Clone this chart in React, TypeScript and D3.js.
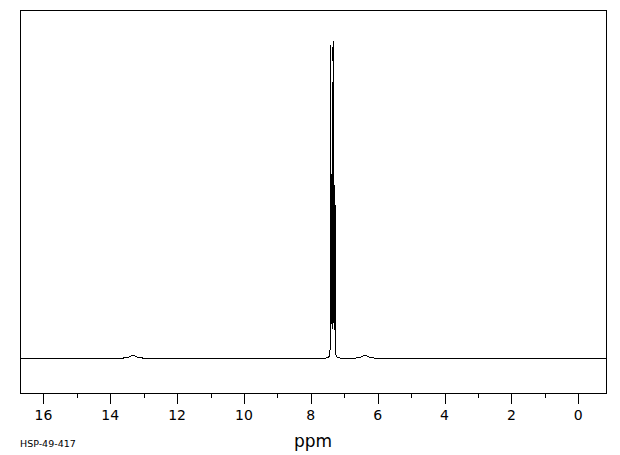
import React from "react";
import * as d3 from "d3";

// Peak list (ppm, intensity relative to tallest = 100, half width in ppm)
const peakPpm = [7.416, 7.404, 7.393, 7.383, 7.372, 7.363, 7.352, 7.336, 7.326, 7.315, 7.305, 7.297, 7.286, 7.276, 7.267, 7.35, 13.32, 6.37];
const peakHeight = [70, 95, 50, 53, 46, 50, 48, 94.5, 50, 54, 46, 50, 41, 45, 40, 3.5, 0.9, 1.0];
const peakWidth = [0.0015, 0.0015, 0.0015, 0.0015, 0.0015, 0.0015, 0.0015, 0.0015, 0.0015, 0.0015, 0.0015, 0.0015, 0.0015, 0.0015, 0.0015, 0.035, 0.13, 0.11];

const majorTicks = [16, 14, 12, 10, 8, 6, 4, 2, 0];
const minorTicks = [15, 13, 11, 9, 7, 5, 3, 1];
const xDomain = [16.7, -0.83];
const axisTitle = "ppm";
const sampleId = "HSP-49-417";

const W = 620;
const H = 455;
const left = 20;
const right = 606;
const top = 10;
const bottom = 393;

export default function App() {
  const x = d3.scaleLinear().domain(xDomain).range([left, right]);
  const y = d3.scaleLinear().domain([0, 100]).range([358.5, 40.5]);

  const intensity = (p: number) => {
    let s = 0;
    for (let i = 0; i < peakPpm.length; i++) {
      const d = p - peakPpm[i];
      const g = peakWidth[i];
      s += (peakHeight[i] * g * g) / (d * d + g * g);
    }
    return s;
  };

  const pts: [number, number][] = [];
  let p = xDomain[0];
  while (p >= xDomain[1]) {
    pts.push([p, intensity(p)]);
    p -= p < 7.6 && p > 7.1 ? 0.0002 : 0.002;
  }
  const line = d3
    .line<[number, number]>()
    .x((d) => x(d[0]))
    .y((d) => y(d[1]));

  const font = "'DejaVu Sans', Verdana, sans-serif";

  return (
    <svg
      width={W}
      height={H}
      style={{ position: "fixed", left: 0, top: 0, background: "#fff" }}
    >
      <rect x={0} y={0} width={W} height={H} fill="#fff" />
      <rect
        x={left + 0.5}
        y={top + 0.5}
        width={right - left}
        height={bottom - top}
        fill="none"
        stroke="#000"
        strokeWidth={1}
        shapeRendering="crispEdges"
      />
      <path
        d={line(pts) || ""}
        fill="none"
        stroke="#000"
        strokeWidth={1}
        shapeRendering="crispEdges"
      />
      {majorTicks.map((t) => (
        <g key={"M" + t}>
          <line
            x1={Math.round(x(t)) + 0.5}
            x2={Math.round(x(t)) + 0.5}
            y1={bottom}
            y2={bottom + 11}
            stroke="#000"
            shapeRendering="crispEdges"
          />
          <text
            x={x(t)}
            y={420}
            textAnchor="middle"
            fontFamily={font}
            fontSize={14}
            fill="#000"
          >
            {t}
          </text>
        </g>
      ))}
      {minorTicks.map((t) => (
        <line
          key={"m" + t}
          x1={Math.round(x(t)) + 0.5}
          x2={Math.round(x(t)) + 0.5}
          y1={bottom}
          y2={bottom + 5}
          stroke="#000"
          shapeRendering="crispEdges"
        />
      ))}
      <text
        x={313}
        y={447}
        textAnchor="middle"
        fontFamily={font}
        fontSize={17}
        fill="#000"
      >
        {axisTitle}
      </text>
      <text x={20} y={447} fontFamily={font} fontSize={9.5} fill="#000">
        {sampleId}
      </text>
    </svg>
  );
}
